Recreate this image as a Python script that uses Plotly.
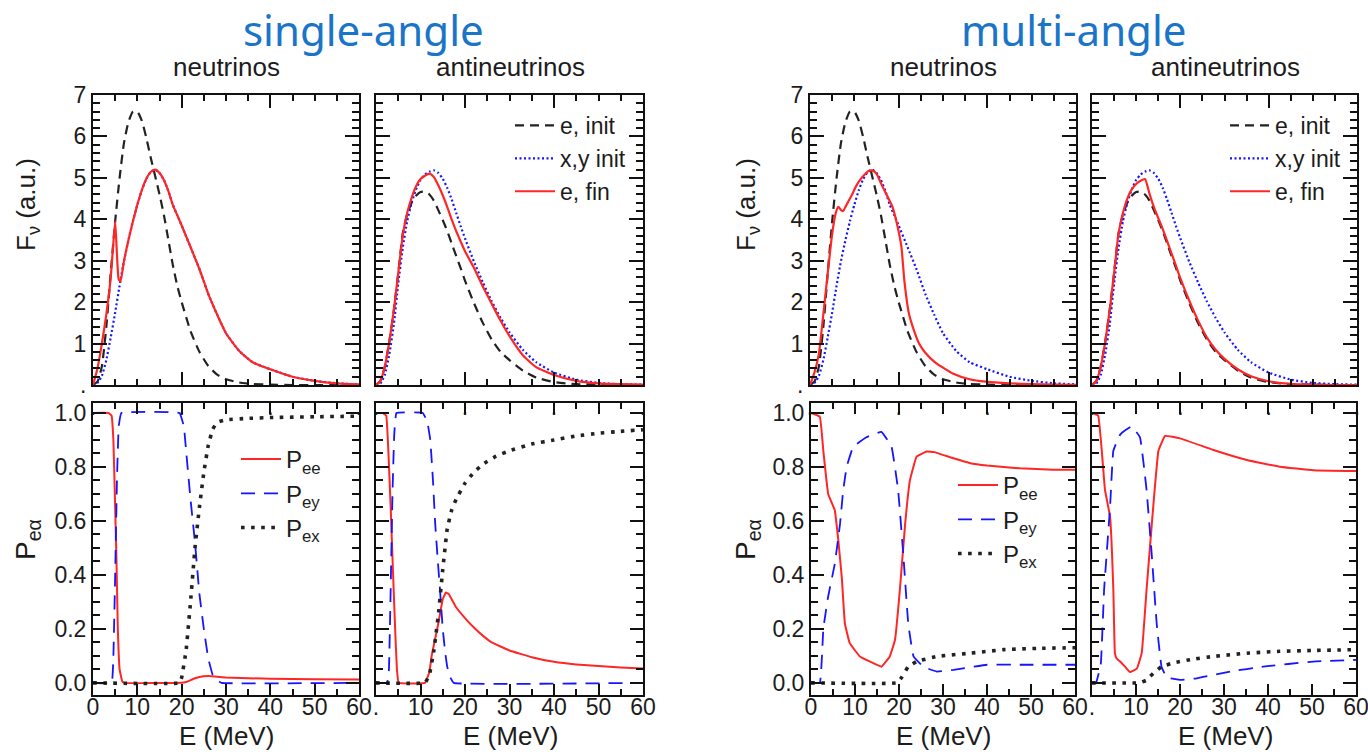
import plotly.graph_objects as go

W, H = 1368, 756

# ---------------- spectra (top row), energies in MeV ----------------
E_spec = [0, 1, 2, 3, 4, 5, 6, 7, 8, 9, 10, 11, 12, 13, 14, 15, 16, 17, 18, 19, 20,
          22, 24, 26, 28, 30, 33, 36, 40, 45, 50, 55, 60]

nue_init = [0, 0.08, 0.45, 1.4, 2.7, 3.95, 5.0, 5.85, 6.35, 6.6, 6.6, 6.38, 5.98, 5.5, 5.05,
            4.6, 4.1, 3.5, 2.9, 2.4, 2.0, 1.3, 0.8, 0.46, 0.25, 0.14, 0.06, 0.025, 0.01,
            0, 0, 0, 0]
nux_init = [0, 0.05, 0.22, 0.6, 1.15, 1.75, 2.4, 3.0, 3.5, 3.95, 4.35, 4.7, 4.97, 5.14, 5.2,
            5.12, 4.95, 4.68, 4.35, 4.1, 3.85, 3.33, 2.8, 2.2, 1.7, 1.25, 0.82, 0.55, 0.38,
            0.2, 0.1, 0.04, 0.015]
nuebar_init = [0, 0.1, 0.45, 1.05, 1.8, 2.7, 3.65, 4.12, 4.4, 4.57, 4.66, 4.67, 4.6, 4.45,
               4.22, 3.98, 3.72, 3.42, 3.12, 2.83, 2.52, 1.98, 1.5, 1.1, 0.8, 0.6, 0.35, 0.18,
               0.07, 0.02, 0.01, 0, 0]
nuxbar_init = [0, 0.04, 0.25, 0.75, 1.45, 2.45, 3.3, 3.95, 4.4, 4.72, 4.95, 5.08, 5.15, 5.18,
               5.12, 4.98, 4.76, 4.48, 4.16, 3.84, 3.54, 2.98, 2.48, 2.02, 1.62, 1.27, 0.85,
               0.55, 0.3, 0.13, 0.05, 0.02, 0.01]

# final nu_e spectrum, single-angle
E_fin_sa_nu = [0, 1, 2, 3, 4, 4.5, 5, 5.4, 5.8, 6.2, 7, 8, 9, 10, 11, 12, 13, 14, 15, 16, 17,
               18, 19, 20, 22, 24, 26, 28, 30, 33, 36, 40, 45, 50, 55, 60]
fin_sa_nu = [0, 0.4, 1.0, 1.7, 2.6, 3.3, 3.95, 3.15, 2.55, 2.5, 3.0, 3.5, 3.95, 4.35, 4.7,
             4.97, 5.14, 5.2, 5.12, 4.95, 4.68, 4.35, 4.1, 3.85, 3.33, 2.8, 2.2, 1.7, 1.25,
             0.82, 0.55, 0.38, 0.2, 0.1, 0.04, 0.015]
# final anti-nu_e spectrum, single-angle
fin_sa_nubar = [0, 0.1, 0.45, 1.05, 1.8, 2.7, 3.6, 4.15, 4.52, 4.8, 4.97, 5.05, 5.1, 5.02,
                4.82, 4.58, 4.3, 4.0, 3.72, 3.47, 3.23, 2.83, 2.38, 1.96, 1.55, 1.18, 0.72,
                0.43, 0.24, 0.1, 0.04, 0.02, 0.01]
# final nu_e spectrum, multi-angle
E_fin_ma_nu = [0, 1, 2, 3, 4, 5, 5.8, 6.4, 7.0, 7.5, 8.0, 8.6, 9.5, 10.4, 11.5, 12.5, 13.3,
               14, 15, 16.3, 17.5, 18.6, 19.6, 20.6, 21.3, 22.3, 23.5, 24.6, 26, 28.4, 30,
               32.2, 36, 39.7, 45, 50, 55, 60]
fin_ma_nu = [0, 0.3, 0.75, 1.7, 2.7, 3.65, 4.15, 4.3, 4.22, 4.2, 4.3, 4.42, 4.6, 4.8, 4.98,
             5.1, 5.17, 5.18, 5.1, 4.8, 4.55, 4.3, 3.9, 3.35, 2.5, 1.73, 1.3, 1.0, 0.78, 0.53,
             0.42, 0.28, 0.14, 0.08, 0.04, 0.02, 0.01, 0.005]
# final anti-nu_e spectrum, multi-angle
fin_ma_nubar = [0, 0.1, 0.45, 1.05, 1.8, 2.7, 3.65, 4.15, 4.5, 4.72, 4.85, 4.93, 4.97, 4.62,
                4.3, 4.03, 3.77, 3.48, 3.18, 2.88, 2.58, 2.04, 1.56, 1.15, 0.85, 0.63, 0.38,
                0.21, 0.09, 0.03, 0.01, 0, 0]

# ---------------- survival / conversion probabilities (bottom row) ----------------
# single-angle, neutrinos
sa_nu_ee_E = [0, 3.5, 4.2, 4.6, 5.0, 5.3, 5.6, 6.0, 6.6, 7, 20, 21, 22, 23, 24, 26, 30, 40, 50, 60]
sa_nu_ee = [1, 1, 0.99, 0.9, 0.65, 0.45, 0.2, 0.05, 0.005, 0, 0, 0.003, 0.01, 0.017, 0.022,
            0.025, 0.02, 0.015, 0.013, 0.012]
sa_nu_ey_E = [0, 4.2, 4.6, 5.0, 5.4, 5.8, 6.4, 19.5, 20.5, 21, 22, 23, 24, 25, 26, 27, 28, 29, 60]
sa_nu_ey = [0, 0, 0.1, 0.4, 0.75, 0.95, 1, 1, 0.95, 0.86, 0.68, 0.52, 0.33, 0.2, 0.09, 0.03,
            0.01, 0, 0]
sa_nu_ex_E = [0, 19.5, 20, 21, 22, 23, 24, 25, 26, 27, 28, 30, 35, 40, 50, 60]
sa_nu_ex = [0, 0, 0.02, 0.12, 0.3, 0.5, 0.65, 0.78, 0.88, 0.94, 0.965, 0.975, 0.98, 0.983,
            0.986, 0.988]

# single-angle, antineutrinos
sa_nb_ee_E = [0, 1.5, 2.3, 2.8, 3.3, 3.8, 4.3, 4.7, 5.1, 11, 12, 12.5, 13, 14, 15, 15.7, 16.3,
              17, 18, 20, 22, 24, 26, 30, 35, 40, 45, 50, 55, 60]
sa_nb_ee = [1, 1, 0.99, 0.85, 0.65, 0.42, 0.2, 0.05, 0, 0, 0.04, 0.1, 0.14, 0.22, 0.31, 0.335,
            0.33, 0.31, 0.28, 0.24, 0.205, 0.175, 0.15, 0.12, 0.095, 0.078, 0.068, 0.062,
            0.057, 0.053]
sa_nb_ey_E = [0, 2.5, 2.9, 3.3, 3.7, 4.1, 4.6, 10.5, 11.5, 12.2, 12.8, 13.3, 13.9, 14.4, 15,
              15.5, 16, 16.7, 17.5, 60]
sa_nb_ey = [0, 0, 0.05, 0.35, 0.7, 0.92, 1, 1, 0.97, 0.9, 0.75, 0.59, 0.45, 0.34, 0.2, 0.12,
            0.06, 0.02, 0, 0]
sa_nb_ex_E = [0, 11, 12, 13, 14, 15, 16, 17, 18, 20, 22, 24, 27, 30, 35, 40, 45, 50, 55, 60]
sa_nb_ex = [0, 0, 0.03, 0.12, 0.25, 0.42, 0.57, 0.64, 0.68, 0.74, 0.78, 0.81, 0.84, 0.86,
            0.885, 0.9, 0.915, 0.925, 0.932, 0.938]

# multi-angle, neutrinos
ma_nu_ee_E = [0, 2.0, 2.8, 3.9, 5.4, 6.2, 7.0, 7.7, 8.8, 11.1, 13.4, 16.0, 17.9, 19.1, 20.2,
              21.4, 22.5, 24.0, 26.3, 28, 32.4, 36, 40, 47.5, 55, 60]
ma_nu_ee = [1, 0.986, 0.86, 0.70, 0.64, 0.53, 0.39, 0.22, 0.147, 0.098, 0.079, 0.06, 0.098,
            0.16, 0.345, 0.59, 0.752, 0.838, 0.857, 0.855, 0.832, 0.815, 0.805, 0.795, 0.79,
            0.79]
ma_nu_ey_E = [0, 2.0, 2.8, 3.9, 5.4, 6.6, 7.3, 8.1, 9.6, 12.6, 16.0, 18.3, 19.8, 21.0, 22.1,
              23.3, 25.5, 28.6, 32.4, 40, 47.5, 60]
ma_nu_ey = [0, 0, 0.2, 0.32, 0.44, 0.59, 0.71, 0.8, 0.875, 0.91, 0.93, 0.875, 0.715, 0.47,
            0.22, 0.098, 0.06, 0.042, 0.048, 0.067, 0.067, 0.067]
ma_nu_ex_E = [0, 19.5, 20.6, 22.1, 24, 28.6, 36.2, 43.8, 52, 60]
ma_nu_ex = [0, 0, 0.02, 0.06, 0.079, 0.098, 0.11, 0.123, 0.128, 0.13]

# multi-angle, antineutrinos
ma_nb_ee_E = [0, 1.4, 2.95, 4.1, 4.85, 5.2, 5.6, 6.4, 7.5, 8.6, 10.2, 11.3, 12.4, 13.6, 15.1,
              16.6, 20, 27.6, 35.2, 42.7, 50.3, 60]
ma_nb_ee = [1, 0.99, 0.715, 0.616, 0.345, 0.11, 0.09, 0.079, 0.06, 0.04, 0.053, 0.11, 0.345,
            0.59, 0.86, 0.915, 0.906, 0.863, 0.826, 0.801, 0.788, 0.785]
ma_nb_ey_E = [0, 0.9, 2.0, 2.75, 4.1, 4.85, 6.4, 9.0, 10.9, 12.4, 13.6, 14.7, 15.8, 17, 20,
              23.8, 31.4, 38.9, 50.3, 60]
ma_nb_ey = [0, 0, 0.07, 0.345, 0.65, 0.86, 0.92, 0.95, 0.91, 0.715, 0.47, 0.22, 0.06, 0.02,
            0.011, 0.017, 0.042, 0.06, 0.079, 0.085]
ma_nb_ex_E = [0, 10.8, 12.4, 13.9, 15.8, 18.5, 22.3, 27.6, 35.2, 42.7, 50, 60]
ma_nb_ex = [0, 0, 0.01, 0.035, 0.06, 0.074, 0.086, 0.098, 0.11, 0.117, 0.12, 0.123]

# ---------------- tick labelling ----------------
spec_y_alias = {"0": "."}                       # zero of the flux axis shown as a dot
top_x_alias = {"0": ".", "20": ".", "40": ".", "60": "."}
bot_x_alias_right = {"0": "."}

# ---------------- styling ----------------
RED = "#ff2626"
BLUE = "#1515ff"
BLACK = "#222222"
SANS = "Liberation Sans, Arial, sans-serif"
TXT = "#1c1c1c"
FRAME = "#111111"

styles = {
    "init_e": dict(color=BLACK, width=2.2, dash="9px,6px"),
    "init_x": dict(color=BLUE, width=2.2, dash="2px,2.5px"),
    "fin": dict(color=RED, width=2.2),
    "ee": dict(color=RED, width=2.0),
    "ey": dict(color=BLUE, width=1.8, dash="14px,9px"),
    "ex": dict(color=BLACK, width=3.6, dash="3.6px,6.5px"),
}

# panel domains in pixels: (x0, x1, y_top, y_bottom)
panels = {
    1: (93, 359, 95, 385),
    2: (376, 643, 95, 385),
    3: (93, 359, 403, 695),
    4: (376, 643, 403, 695),
    5: (810, 1076, 95, 385),
    6: (1092, 1357, 95, 385),
    7: (811, 1075, 403, 695),
    8: (1092, 1356, 403, 695),
}

fig = go.Figure()


def ax_names(p):
    return ("x" if p == 1 else f"x{p}"), ("y" if p == 1 else f"y{p}")


def add(p, E, vals, style, name=None, legend=None):
    xa, ya = ax_names(p)
    smooth = 0.5 if style in ("init_e", "init_x", "fin") else 0.25
    fig.add_trace(go.Scatter(
        x=E, y=vals, mode="lines",
        line=dict(shape="spline", smoothing=smooth, **styles[style]),
        name=name, showlegend=legend is not None, legend=legend or "legend",
        xaxis=xa, yaxis=ya, hoverinfo="skip"))


# spectra
add(1, E_spec, nue_init, "init_e")
add(1, E_spec, nux_init, "init_x")
add(1, E_fin_sa_nu, fin_sa_nu, "fin")

add(2, E_spec, nuebar_init, "init_e", "e, init", "legend")
add(2, E_spec, nuxbar_init, "init_x", "x,y init", "legend")
add(2, E_spec, fin_sa_nubar, "fin", "e, fin", "legend")

add(5, E_spec, nue_init, "init_e")
add(5, E_spec, nux_init, "init_x")
add(5, E_fin_ma_nu, fin_ma_nu, "fin")

add(6, E_spec, nuebar_init, "init_e", "e, init", "legend3")
add(6, E_spec, nuxbar_init, "init_x", "x,y init", "legend3")
add(6, E_spec, fin_ma_nubar, "fin", "e, fin", "legend3")

# probabilities
add(3, sa_nu_ee_E, sa_nu_ee, "ee", "P<sub>ee</sub>", "legend2")
add(3, sa_nu_ey_E, sa_nu_ey, "ey", "P<sub>ey</sub>", "legend2")
add(3, sa_nu_ex_E, sa_nu_ex, "ex", "P<sub>ex</sub>", "legend2")

add(4, sa_nb_ee_E, sa_nb_ee, "ee")
add(4, sa_nb_ey_E, sa_nb_ey, "ey")
add(4, sa_nb_ex_E, sa_nb_ex, "ex")

add(7, ma_nu_ee_E, ma_nu_ee, "ee", "P<sub>ee</sub>", "legend4")
add(7, ma_nu_ey_E, ma_nu_ey, "ey", "P<sub>ey</sub>", "legend4")
add(7, ma_nu_ex_E, ma_nu_ex, "ex", "P<sub>ex</sub>", "legend4")

add(8, ma_nb_ee_E, ma_nb_ee, "ee")
add(8, ma_nb_ey_E, ma_nb_ey, "ey")
add(8, ma_nb_ex_E, ma_nb_ex, "ex")

# axes
layout = dict(width=W, height=H, margin=dict(l=0, r=0, t=0, b=0, autoexpand=False),
              paper_bgcolor="white", plot_bgcolor="rgba(0,0,0,0)", showlegend=True)


def minor(dt, ln):
    return dict(ticks="inside", dtick=dt, ticklen=ln, tickwidth=2, tickcolor=FRAME)


for p, (x0, x1, yt, yb) in panels.items():
    top = p in (1, 2, 5, 6)
    left = p in (1, 3, 5, 7)
    xa, ya = ax_names(p)
    common = dict(showline=True, linecolor=FRAME, linewidth=2, mirror="allticks",
                  ticks="inside", tickwidth=2, tickcolor=FRAME,
                  showgrid=False, zeroline=False, automargin=False,
                  ticklabeloverflow="allow",
                  tickfont=dict(family=SANS, size=23, color=TXT))
    xaxis = dict(common, domain=[x0 / W, x1 / W], range=[0, 60], anchor=ya)
    yaxis = dict(common, domain=[1 - yb / H, 1 - yt / H], anchor=xa)
    if top:
        xaxis.update(dtick=20, ticklen=13, labelalias=top_x_alias, minor=minor(5, 6))
        yaxis.update(range=[0, 7], dtick=1, ticklen=14, labelalias=spec_y_alias,
                     minor=minor(0.2, 7))
    else:
        xaxis.update(dtick=10, ticklen=11, minor=minor(5, 6), ticklabelstandoff=-10)
        if not left:
            xaxis.update(labelalias=bot_x_alias_right)
        yaxis.update(range=[-0.045, 1.037], dtick=0.2, tickformat=".1f", ticklen=13,
                     minor=minor(0.05, 7))
    if not left:
        yaxis.update(showticklabels=False)
    layout["xaxis" if p == 1 else f"xaxis{p}"] = xaxis
    layout["yaxis" if p == 1 else f"yaxis{p}"] = yaxis

leg_common = dict(bgcolor="rgba(0,0,0,0)", borderwidth=0, xanchor="left", yanchor="top",
                  tracegroupgap=0, itemwidth=40, itemclick=False, itemdoubleclick=False)
layout["legend"] = dict(leg_common, x=510 / W, y=1 - 104 / H,
                        font=dict(family=SANS, size=23, color=TXT))
layout["legend3"] = dict(leg_common, x=1225 / W, y=1 - 104 / H,
                         font=dict(family=SANS, size=23, color=TXT))
layout["legend2"] = dict(leg_common, x=236 / W, y=1 - 437 / H,
                         font=dict(family=SANS, size=24, color=TXT))
layout["legend4"] = dict(leg_common, x=953 / W, y=1 - 463 / H,
                         font=dict(family=SANS, size=24, color=TXT))

fig.update_layout(**layout)


def note(text, px, py, size, color=TXT, family=SANS, angle=0):
    fig.add_annotation(text=text, x=px / W, y=1 - py / H, xref="paper", yref="paper",
                       showarrow=False, xanchor="center", yanchor="middle",
                       font=dict(family=family, size=size, color=color), textangle=angle)


TITLE_BLUE = "#1a74c8"
note("single-angle", 363, 30, 42, TITLE_BLUE, "Noto Sans, sans-serif")
note("multi-angle", 1073, 30, 42, TITLE_BLUE, "Noto Sans, sans-serif")
note("neutrinos", 226, 67, 26)
note("antineutrinos", 510, 67, 26)
note("neutrinos", 943, 67, 26)
note("antineutrinos", 1225, 67, 26)
note("F<sub>ν</sub> (a.u.)", 27, 205, 26, angle=-90)
note("F<sub>ν</sub> (a.u.)", 747, 205, 26, angle=-90)
note("P<sub>eα</sub>", 27, 540, 28, angle=-90)
note("P<sub>eα</sub>", 747, 540, 28, angle=-90)
note("E (MeV)", 226, 736, 26)
note("E (MeV)", 510, 736, 26)
note("E (MeV)", 943, 736, 26)
note("E (MeV)", 1225, 736, 26)

fig.write_html("out.html")
